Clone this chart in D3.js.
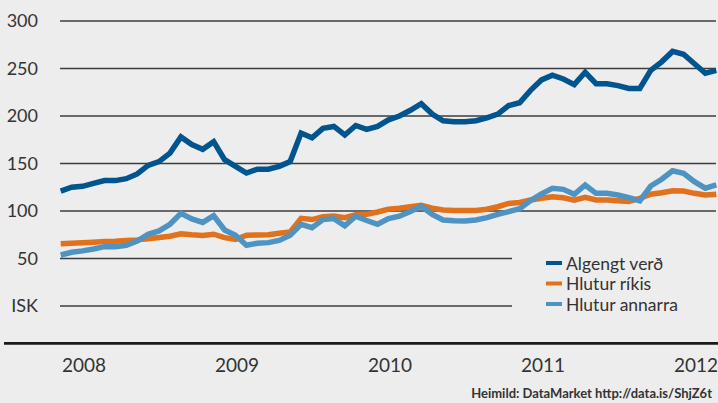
<!DOCTYPE html>
<html>
<head>
<meta charset="utf-8">
<script src="https://cdn.jsdelivr.net/npm/d3@7"></script>
<style>
  body { margin: 0; background: #ededed; }
  svg { display: block; background: #ededed; font-family: Lato, "Open Sans", sans-serif; }
  .tick-label { fill: #333; font-size: 18px; }
  .year-label { fill: #333; font-size: 19px; }
  .legend-label { fill: #333; font-size: 17.5px; }
  .source { fill: #333; font-size: 13px; font-weight: 700; }
</style>
</head>
<body>
<svg width="718" height="403"></svg>
<script>
// series values, one point per ~4 weeks
const algengt = [121,125,126,129,132,132,134,139,148,152,161,178,170,165,173,154,147,140,144,144,
  147,152,182,177,187,189,180,190,186,189,196,200,206,213,202,195,194,194,195,198,
  202,211,214,227,238,243,239,233,246,234,234,232,229,229,248,257,268,265,255,245,248];
const rikis = [65.5,66,66.5,67.2,67.8,68.2,69,69.6,70.8,72,73.5,76,75,74.3,75.6,72,70,74.5,74.7,75,
  76.5,78,92.3,91,94,94.7,93,96,96.5,99,102,103,104.5,106,103,101,100.5,100.5,100.5,101.8,
  104.5,108,109,111.6,113.5,115,114,111.5,114.4,111.6,111.6,110.8,110,113.4,117.6,119.3,121.4,121,118.6,116.8,117.6];
const annarra = [53.7,56.5,58,60,62.5,62.5,64,68.4,75.4,79,86,97.5,91.6,88,95,80,74.5,64,66,66.7,
  69,74.5,86,82.5,91,92,84.5,94.5,90,86,92,94.5,99.5,105,96.5,90.5,89.8,89.6,90.5,93,
  96.5,99.3,102.5,111,118,124,122.8,117.6,127.4,118.6,118.6,116.8,114,110.8,126.3,133.4,142.4,139.7,130.8,124,127.4];

const seriesNames = ['Algengt verð', 'Hlutur ríkis', 'Hlutur annarra'];
const seriesColors = ['#00558f', '#e0711d', '#4f93c2'];

const yTicks = [0, 50, 100, 150, 200, 250, 300];
const yTickLabels = ['ISK', '50', '100', '150', '200', '250', '300'];
const years = [2008, 2009, 2010, 2011, 2012];
const firstPoint = 2007.848;   // time of first sample, in years
const lastPoint = 2012.133;    // time of last sample

const svg = d3.select('svg');

const x = d3.scaleLinear().domain([firstPoint, lastPoint]).range([60.7, 716.3]);
const y = d3.scaleLinear().domain([0, 300]).range([306, 21]);

const t = (i, n) => firstPoint + i * (lastPoint - firstPoint) / (n - 1);

// gridlines, the bottom two stop short of the legend
svg.append('g')
  .selectAll('line')
  .data(yTicks)
  .enter()
  .append('line')
  .attr('x1', 60)
  .attr('x2', (d) => d < 100 ? 512 : 716)
  .attr('y1', (d) => y(d))
  .attr('y2', (d) => y(d))
  .attr('stroke', '#3d3d3d')
  .attr('stroke-width', 1.3);

svg.append('g')
  .selectAll('text')
  .data(yTicks)
  .enter()
  .append('text')
  .attr('class', 'tick-label')
  .attr('x', 38)
  .attr('y', (d) => y(d) + 6)
  .attr('text-anchor', 'end')
  .text((d, i) => yTickLabels[i]);

// bottom axis rule
svg.append('line')
  .attr('x1', 4)
  .attr('x2', 718)
  .attr('y1', 343.3)
  .attr('y2', 343.3)
  .attr('stroke', '#1a1a1a')
  .attr('stroke-width', 2.8);

svg.append('g')
  .selectAll('text')
  .data(years)
  .enter()
  .append('text')
  .attr('class', 'year-label')
  .attr('x', (d) => x(d))
  .attr('y', 372)
  .attr('text-anchor', 'middle')
  .text((d) => d);

const line = d3.line()
  .x((d, i, arr) => x(t(i, arr.length)))
  .y((d) => y(d));

// draw back to front
[[rikis, 1], [annarra, 2], [algengt, 0]].forEach(([vals, k]) => {
  svg.append('path')
    .datum(vals)
    .attr('d', line)
    .attr('fill', 'none')
    .attr('stroke', seriesColors[k])
    .attr('stroke-width', 5.5)
    .attr('stroke-linejoin', 'miter');
});

// legend
const legend = svg.append('g')
  .selectAll('g')
  .data(seriesNames)
  .enter()
  .append('g')
  .attr('transform', (d, i) => `translate(546, ${263 + i * 20.5})`);

legend.append('line')
  .attr('x1', 0)
  .attr('x2', 16)
  .attr('stroke', (d, i) => seriesColors[i])
  .attr('stroke-width', 4);

legend.append('text')
  .attr('class', 'legend-label')
  .attr('x', 20)
  .attr('y', 6.5)
  .text((d) => d);

svg.append('text')
  .attr('class', 'source')
  .attr('x', 712)
  .attr('y', 398)
  .attr('text-anchor', 'end')
  .text('Heimild: DataMarket http://data.is/ShjZ6t');
</script>
</body>
</html>
